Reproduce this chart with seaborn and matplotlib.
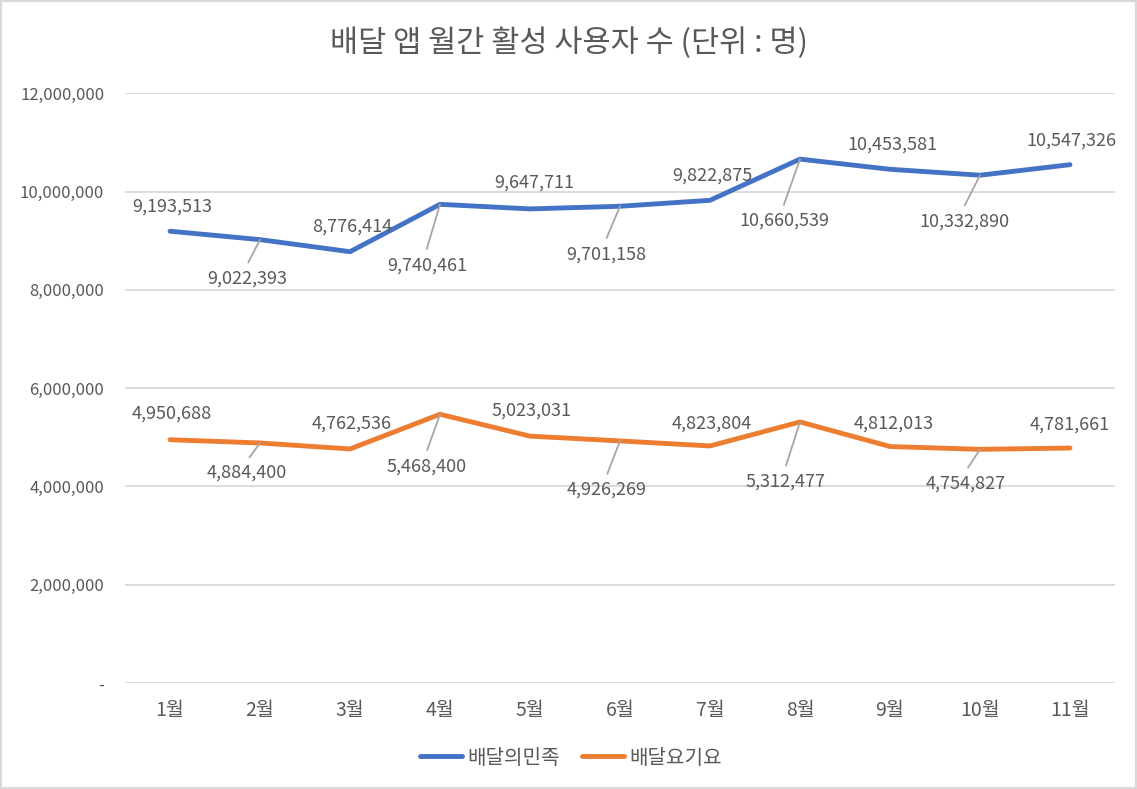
import matplotlib
matplotlib.use('Agg')
import pandas as pd
import matplotlib.pyplot as plt
import matplotlib.ticker as mticker
from matplotlib.patches import Rectangle
import seaborn as sns

# data
months = ['1월', '2월', '3월', '4월', '5월', '6월', '7월', '8월', '9월', '10월', '11월']
app_names = ['배달의민족', '배달요기요']
baemin = [9193513, 9022393, 8776414, 9740461, 9647711, 9701158,
          9822875, 10660539, 10453581, 10332890, 10547326]
yogiyo = [4950688, 4884400, 4762536, 5468400, 5023031, 4926269,
          4823804, 5312477, 4812013, 4754827, 4781661]
title = '배달 앱 월간 활성 사용자 수 (단위 : 명)'

# label placement (pixel offsets from the point, y measured downward)
baemin_offsets = [(2, -25), (-13, 39), (2, -25), (-13, 61), (4, -26), (-14, 48),
                  (2, -25), (-16, 62), (2, -25), (-16, 46), (1, -24)]
yogiyo_offsets = [(2, -26), (-13, 30), (2, -25), (-13, 52), (2, -26), (-13, 49),
                  (2, -22), (-14, 60), (4, -23), (-14, 34), (0, -23)]

colors = ['#4472C4', '#ED7D31']
text_color = '#595959'

df = pd.DataFrame({
    'month_idx': list(range(len(months))) * 2,
    'users': baemin + yogiyo,
    'app': [app_names[0]] * len(months) + [app_names[1]] * len(months),
})

sns.set_theme(style='white')
plt.rcParams['font.family'] = ['Noto Sans CJK KR', 'DejaVu Sans']

fig = plt.figure(figsize=(11.37, 7.89), dpi=100)
ax = fig.add_axes([125 / 1137, 106 / 789, 990 / 1137, 589.7 / 789])

sns.lineplot(data=df, x='month_idx', y='users', hue='app', palette=colors,
             linewidth=3.5, solid_joinstyle='round', solid_capstyle='round',
             ax=ax, legend=True, zorder=3)

handles, labels = ax.get_legend_handles_labels()
ax.get_legend().remove()

ax.set_xlim(-0.5, len(months) - 0.5)
ax.set_ylim(0, 12000000)
ax.set_yticks(range(0, 12000001, 2000000))
ax.yaxis.set_major_formatter(mticker.FuncFormatter(lambda v, _: '-' if v == 0 else f'{int(v):,}'))
ax.set_xticks(range(len(months)))
ax.set_xticklabels(months)
ax.set_xlabel('')
ax.set_ylabel('')
ax.yaxis.grid(True, color='#D9D9D9', linewidth=1.3, zorder=0)
ax.xaxis.grid(False)
for s in ax.spines.values():
    s.set_visible(False)
ax.tick_params(axis='y', length=0, pad=15, labelsize=12, labelcolor=text_color)
ax.tick_params(axis='x', length=0, pad=12, labelsize=14, labelcolor=text_color)

# data labels with leader lines for the labels placed below
for values, offsets in [(baemin, baemin_offsets), (yogiyo, yogiyo_offsets)]:
    for i, (v, (dx, dy)) in enumerate(zip(values, offsets)):
        kw = {}
        if dy > 0:
            kw['arrowprops'] = dict(arrowstyle='-', color='#A6A6A6', lw=1.3,
                                    shrinkA=3, shrinkB=0, relpos=(0.47, 1.0))
        ax.annotate(f'{v:,}', xy=(i, v), xytext=(dx, -dy), textcoords='offset pixels',
                    ha='center', va='center', fontsize=13, color=text_color, **kw)

fig.text(0.5, 1 - 43 / 789, title, ha='center', va='center', fontsize=22, color=text_color)

fig.legend(handles, labels, loc='center', bbox_to_anchor=(571 / 1137, 1 - 758 / 789),
           ncol=2, frameon=False, fontsize=14.5, handlelength=2.1, handletextpad=0.25,
           columnspacing=1.1, labelcolor=text_color)

fig.add_artist(Rectangle((0, 0), 1, 1, transform=fig.transFigure, fill=False,
                         edgecolor='#D9D9D9', linewidth=3))

fig.savefig('out.png', dpi=100)
